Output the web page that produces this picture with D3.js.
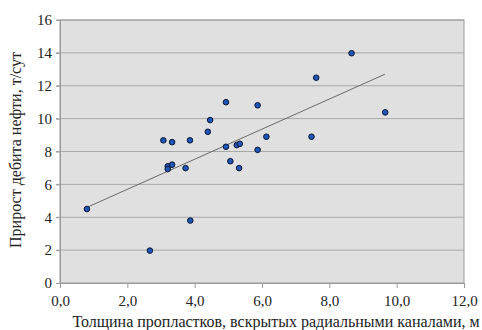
<!DOCTYPE html>
<html lang="ru">
<head>
    <meta charset="UTF-8">
    <title>Прирост дебита нефти</title>
    <script src="https://d3js.org/d3.v7.min.js"></script>
    <style>
        body { margin: 0; background: #fff; }
        svg text { font-family: "Liberation Serif", "Times New Roman", serif !important; fill: #222; }
    </style>
</head>
<body>
    <div id="chart"></div>
    <script>
        // толщина пропластков, м
        const thickness = [0.8, 2.67, 3.07, 3.2, 3.2, 3.33, 3.33, 3.73, 3.86, 3.87, 4.39, 4.46, 4.93,
                           4.93, 5.06, 5.25, 5.34, 5.32, 5.87, 5.87, 6.13, 7.47, 7.61, 8.66, 9.66];
        // прирост дебита, т/сут
        const gain = [4.5, 1.97, 8.68, 7.1, 6.93, 7.2, 8.57, 6.99, 8.68, 3.8, 9.2, 9.91, 11.0,
                      8.29, 7.41, 8.39, 8.47, 6.99, 10.81, 8.1, 8.9, 8.9, 12.49, 13.98, 10.38];
        // линия тренда (концы)
        const trendX = [0.8, 9.65];
        const trendY = [4.6, 12.7];

        const xTicks = [0, 2, 4, 6, 8, 10, 12];
        const yTicks = [0, 2, 4, 6, 8, 10, 12, 14, 16];

        const W = 482, H = 330;
        const margin = { top: 20, right: 18, bottom: 47, left: 60 };
        const width = W - margin.left - margin.right;
        const height = H - margin.top - margin.bottom;

        const x = d3.scaleLinear().domain([0, 12]).range([0, width]);
        const y = d3.scaleLinear().domain([0, 16]).range([height, 0]);

        const svg = d3.select("#chart").append("svg")
            .attr("width", W).attr("height", H);
        const g = svg.append("g")
            .attr("transform", `translate(${margin.left},${margin.top})`);

        // фон области построения
        g.append("rect")
            .attr("width", width).attr("height", height)
            .attr("fill", "#e0e0e0");

        // сетка
        g.append("g")
            .selectAll("line")
            .data(yTicks.slice(1))
            .join("line")
            .attr("x1", -4).attr("x2", width)
            .attr("y1", d => y(d)).attr("y2", d => y(d))
            .attr("stroke", "#a9a9a9").attr("stroke-width", 1);

        // рамка
        g.append("rect")
            .attr("width", width).attr("height", height)
            .attr("fill", "none").attr("stroke", "#9a9a9a");

        const yAxis = d3.axisLeft(y).tickValues(yTicks).tickSize(4).tickFormat(d3.format("d"));
        g.append("g").call(yAxis)
            .attr("font-family", null)
            .call(a => a.select(".domain").attr("stroke", "#9a9a9a"))
            .call(a => a.selectAll(".tick line").attr("stroke", "#9a9a9a"))
            .call(a => a.selectAll("text").attr("font-size", 15).attr("x", -8));

        const xAxis = d3.axisBottom(x).tickValues(xTicks).tickSize(5)
            .tickFormat(d => d.toFixed(1).replace(".", ","));
        g.append("g").attr("transform", `translate(0,${height})`).call(xAxis)
            .attr("font-family", null)
            .call(a => a.select(".domain").attr("stroke", "#9a9a9a"))
            .call(a => a.selectAll(".tick line").attr("stroke", "#9a9a9a"))
            .call(a => a.selectAll("text").attr("font-size", 15).attr("y", 12));

        // тренд
        g.append("line")
            .attr("x1", x(trendX[0])).attr("y1", y(trendY[0]))
            .attr("x2", x(trendX[1])).attr("y2", y(trendY[1]))
            .attr("stroke", "#6a6a6a").attr("stroke-width", 1);

        // точки
        g.append("g")
            .selectAll("circle")
            .data(thickness.map((t, i) => [t, gain[i]]))
            .join("circle")
            .attr("cx", d => x(d[0])).attr("cy", d => y(d[1]))
            .attr("r", 2.8)
            .attr("fill", "#1f56b8")
            .attr("stroke", "#0a1630").attr("stroke-width", 1);

        // подписи осей
        svg.append("text")
            .attr("x", 276).attr("y", 327)
            .attr("text-anchor", "middle").attr("font-size", 16)
            .text("Толщина пропластков, вскрытых радиальными каналами, м");

        svg.append("text")
            .attr("transform", `translate(21,150) rotate(-90)`)
            .attr("text-anchor", "middle").attr("font-size", 16)
            .text("Прирост дебита нефти, т/сут");
    </script>
</body>
</html>
